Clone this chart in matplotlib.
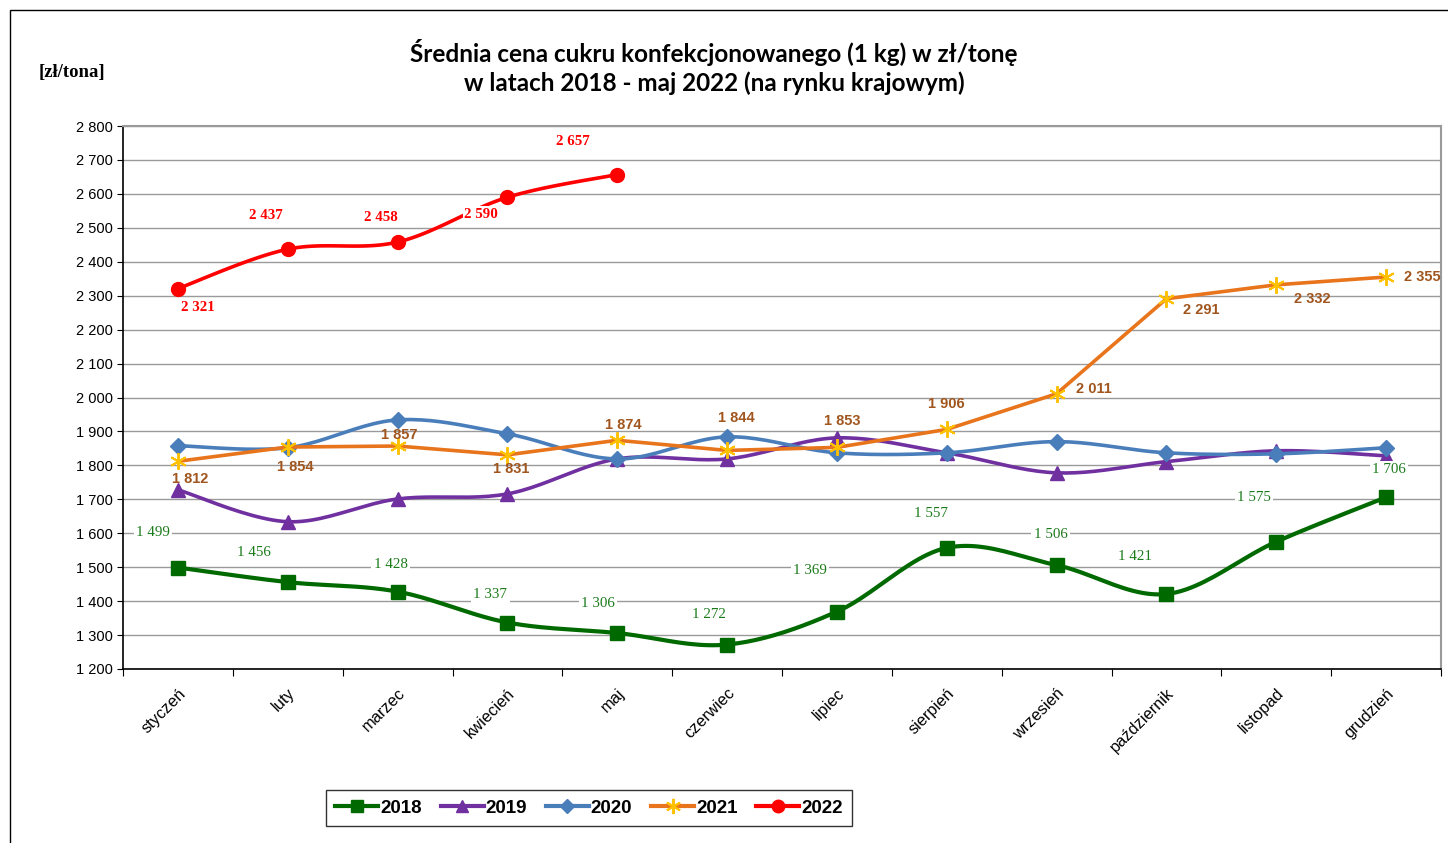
import numpy as np
import matplotlib
matplotlib.use("Agg")
import matplotlib.pyplot as plt
from matplotlib.patches import Rectangle
from matplotlib.lines import Line2D

months = ["styczeń", "luty", "marzec", "kwiecień", "maj", "czerwiec", "lipiec",
          "sierpień", "wrzesień", "październik", "listopad", "grudzień"]
v2018 = [1499, 1456, 1428, 1337, 1306, 1272, 1369, 1557, 1506, 1421, 1575, 1706]
v2019 = [1728, 1634, 1701, 1716, 1819, 1819, 1881, 1837, 1778, 1811, 1843, 1828]
v2020 = [1858, 1852, 1934, 1893, 1819, 1884, 1837, 1837, 1870, 1837, 1834, 1852]
v2021 = [1812, 1854, 1857, 1831, 1874, 1844, 1853, 1906, 2011, 2291, 2332, 2355]
v2022 = [2321, 2437, 2458, 2590, 2657]
yticks = list(range(1200, 2801, 100))

# label offsets in pixels (dx, dy)
off2018 = [(-25, 35), (-34, 30), (-7, 27), (-17, 28), (-19, 30), (-18, 30),
           (-27, 41), (-16, 34), (-6, 31), (-31, 37), (-22, 44), (3, 28)]
off2021 = [(12, -18), (8, -20), (2, 11), (4, -14), (6, 15), (9, 32), (5, 26),
           (0, 25), (37, 5), (35, -11), (36, -14), (36, 0)]
off2022 = [(20, -19), (-22, 34), (-17, 25), (-26, -17), (-44, 33)]


def smooth(y, n=24):
    x = np.arange(len(y), dtype=float)
    pts = np.column_stack([x, np.asarray(y, float)])
    P = np.vstack([pts[0], pts, pts[-1]])
    out = []
    t = np.linspace(0, 1, n)[:, None]
    for i in range(len(pts) - 1):
        p0, p1, p2, p3 = P[i], P[i + 1], P[i + 2], P[i + 3]
        c1 = p1 + (p2 - p0) / 6
        c2 = p2 - (p3 - p1) / 6
        seg = (1 - t) ** 3 * p1 + 3 * (1 - t) ** 2 * t * c1 + 3 * (1 - t) * t ** 2 * c2 + t ** 3 * p2
        out.append(seg if i == 0 else seg[1:])
    s = np.vstack(out)
    return s[:, 0], s[:, 1]


def fmt(v):
    return f"{v:,}".replace(",", " ")


fig = plt.figure(figsize=(14.48, 8.43), dpi=100)
ax = fig.add_axes([123 / 1448, 1 - 669 / 843, (1441 - 123) / 1448, (669 - 126) / 843])

# outer frame
fig.patches.append(Rectangle((10 / 1448, -0.05), 1.2, 1 - 10 / 843 + 0.05, transform=fig.transFigure,
                             fill=False, edgecolor="black", linewidth=1.0))

ax.set_xlim(-0.5, 11.5)
ax.set_ylim(1200, 2800)
ax.set_yticks(yticks)
ax.set_yticklabels([fmt(v) for v in yticks], fontfamily="Liberation Sans", fontsize=10.5)
ax.yaxis.grid(True, color="#9a9a9a", linewidth=1.0)
ax.set_axisbelow(True)
ax.set_xticks(np.arange(-0.5, 12, 1))
ax.set_xticklabels([])
ax.set_xticks(np.arange(12), minor=True)
ax.set_xticklabels(months, minor=True, rotation=45, ha="right", va="top", rotation_mode="anchor",
                   fontfamily="Liberation Sans", fontsize=11.8)
ax.tick_params(axis="x", which="minor", length=0, pad=12)
ax.tick_params(axis="x", which="major", length=5, color="black", direction="out")
ax.tick_params(axis="y", length=4, direction="out", pad=3)
for s in ["left", "bottom"]:
    ax.spines[s].set_color("black")
    ax.spines[s].set_linewidth(1.2)
for s in ["right", "top"]:
    ax.spines[s].set_color("#9a9a9a")
    ax.spines[s].set_linewidth(1.5)

x12 = np.arange(12)
c18, c19, c20, c21, c22 = "#006a00", "#7030A0", "#4A7EBB", "#E8741C", "#FF0000"

sx, sy = smooth(v2018)
ax.plot(sx, sy, color=c18, lw=3.0, zorder=3)
ax.plot(x12, v2018, ls="none", marker="s", ms=10, color=c18, zorder=3)
sx, sy = smooth(v2019)
ax.plot(sx, sy, color=c19, lw=2.6, zorder=3)
ax.plot(x12, v2019, ls="none", marker="^", ms=10, color=c19, zorder=3)
sx, sy = smooth(v2020)
ax.plot(sx, sy, color=c20, lw=2.6, zorder=3)
ax.plot(x12, v2020, ls="none", marker="D", ms=8, color=c20, zorder=3)
ax.plot(x12, v2021, color=c21, lw=2.6, zorder=3)
ax.plot(x12, v2021, ls="none", marker=(6, 2, 0), ms=12, mew=1.4, color="#FFC000", zorder=3)
x5 = np.arange(len(v2022))
sx, sy = smooth(v2022)
ax.plot(sx, sy, color=c22, lw=2.6, zorder=3)
ax.plot(x5, v2022, ls="none", marker="o", ms=10, color=c22, zorder=3)

for i, v in enumerate(v2018):
    ax.annotate(fmt(v), (i, v), xytext=off2018[i], textcoords="offset pixels", ha="center", va="center",
                fontfamily="Liberation Serif", fontsize=10.8, color="#1a7a1a", zorder=4,
                bbox=dict(boxstyle="square,pad=0.15", fc="white", ec="none"))
for i, v in enumerate(v2021):
    ax.annotate(fmt(v), (i, v), xytext=off2021[i], textcoords="offset pixels", ha="center", va="center",
                fontfamily="Liberation Sans", fontweight="bold", fontsize=10.5, color="#A0561E", zorder=4,
                annotation_clip=False)
for i, v in enumerate(v2022):
    ax.annotate(fmt(v), (i, v), xytext=off2022[i], textcoords="offset pixels", ha="center", va="center",
                fontfamily="Liberation Serif", fontweight="bold", fontsize=10.8, color="#FF0000", zorder=4,
                bbox=dict(boxstyle="square,pad=0.1", fc="white", ec="none"))

fig.text(714 / 1448, 1 - 67 / 843,
         "Średnia cena cukru konfekcjonowanego (1 kg) w zł/tonę\nw latach 2018 - maj 2022 (na rynku krajowym)",
         ha="center", va="center", fontfamily="Lato", fontweight="bold", fontsize=17.5, linespacing=1.25)
fig.text(72 / 1448, 1 - 73 / 843, "[zł/tona]", ha="center", va="center",
         fontfamily="Liberation Serif", fontweight="bold", fontsize=13.5)

handles = [
    Line2D([], [], color=c18, lw=3, marker="s", ms=9),
    Line2D([], [], color=c19, lw=3, marker="^", ms=9),
    Line2D([], [], color=c20, lw=3, marker="D", ms=7),
    Line2D([], [], color=c21, lw=3, marker=(6, 2, 0), ms=11, mec="#FFC000", mew=1.4),
    Line2D([], [], color=c22, lw=3, marker="o", ms=9),
]
leg = fig.legend(handles, ["2018", "2019", "2020", "2021", "2022"], loc="center",
                 bbox_to_anchor=(589 / 1448, 1 - 808 / 843), ncol=5, frameon=True, fancybox=False,
                 edgecolor="black", handlelength=2.3, handletextpad=0.1, columnspacing=1.0,
                 borderpad=0.5, prop=dict(family="Liberation Sans", weight="bold", size=13.5))
leg.get_frame().set_linewidth(1.0)

fig.savefig("out.png", dpi=100, facecolor="white")
